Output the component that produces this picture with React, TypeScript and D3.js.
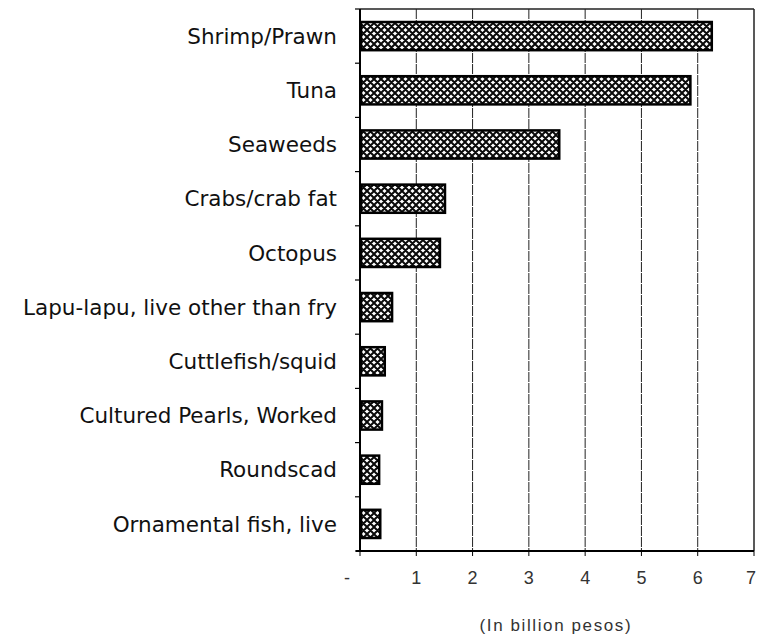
import React, { useRef, useEffect } from 'react';
import * as d3 from 'd3';

const categories = [
    'Shrimp/Prawn',
    'Tuna',
    'Seaweeds',
    'Crabs/crab fat',
    'Octopus',
    'Lapu-lapu, live other than fry',
    'Cuttlefish/squid',
    'Cultured Pearls, Worked',
    'Roundscad',
    'Ornamental fish, live',
];
const values = [6.25, 5.87, 3.54, 1.51, 1.42, 0.57, 0.44, 0.39, 0.34, 0.36];
const xTicks = [0, 1, 2, 3, 4, 5, 6, 7];
const xTickLabels = ['-', '1', '2', '3', '4', '5', '6', '7'];

const width = 757;
const height = 639;

const ExportsChart: React.FC = () => {
    const svgRef = useRef<SVGSVGElement | null>(null);

    useEffect(() => {
        if (!svgRef.current) return;
        const svg = d3.select(svgRef.current);
        svg.selectAll('*').remove();

        const margin = { top: 9, right: 3, bottom: 88, left: 360 };
        const innerWidth = width - margin.left - margin.right;
        const innerHeight = height - margin.top - margin.bottom;

        const defs = svg.append('defs');
        const pat = defs
            .append('pattern')
            .attr('id', 'hatch')
            .attr('patternUnits', 'userSpaceOnUse')
            .attr('width', 7)
            .attr('height', 7);
        pat.append('rect').attr('width', 7).attr('height', 7).attr('fill', '#fff');
        pat.append('path')
            .attr('d', 'M0,0 L7,7 M-1,6 L1,8 M6,-1 L8,1 M7,0 L0,7 M-1,1 L1,-1 M6,8 L8,6')
            .attr('stroke', '#0a0a0a')
            .attr('stroke-width', 2);

        const x = d3.scaleLinear().domain([0, 7]).range([0, innerWidth]);
        const y = d3.scaleBand<string>().domain(categories).range([0, innerHeight]).paddingInner(0.48).paddingOuter(0.24);
        const step = innerHeight / categories.length;

        const g = svg.append('g').attr('transform', `translate(${margin.left},${margin.top})`);

        // vertical grid lines
        g.selectAll('.grid')
            .data(xTicks.slice(1))
            .join('line')
            .attr('x1', (d) => x(d))
            .attr('x2', (d) => x(d))
            .attr('y1', 0)
            .attr('y2', innerHeight)
            .attr('stroke', '#222')
            .attr('stroke-width', (d) => (d === 7 ? 1.5 : 1))
            .attr('stroke-dasharray', (d) => (d === 7 ? null : '10,1'));

        // top border
        g.append('line')
            .attr('x1', 0)
            .attr('x2', innerWidth)
            .attr('y1', 0)
            .attr('y2', 0)
            .attr('stroke', '#222')
            .attr('stroke-width', 1.5);

        // bars
        g.selectAll('.bar')
            .data(values)
            .join('rect')
            .attr('x', x(0) + 1)
            .attr('y', (_, i) => y(categories[i]) as number)
            .attr('width', (d) => x(d) - x(0) - 1)
            .attr('height', y.bandwidth())
            .attr('fill', 'url(#hatch)')
            .attr('stroke', '#000')
            .attr('stroke-width', 2.5);

        // y axis line and ticks
        g.append('line')
            .attr('x1', 0)
            .attr('x2', 0)
            .attr('y1', 0)
            .attr('y2', innerHeight)
            .attr('stroke', '#000')
            .attr('stroke-width', 2);
        g.selectAll('.ytick')
            .data(d3.range(categories.length + 1))
            .join('line')
            .attr('x1', -5)
            .attr('x2', 0)
            .attr('y1', (d) => d * step)
            .attr('y2', (d) => d * step)
            .attr('stroke', '#000')
            .attr('stroke-width', 1.2);

        g.selectAll('.ylabel')
            .data(categories)
            .join('text')
            .attr('x', -23)
            .attr('y', (d) => (y(d) as number) + y.bandwidth() / 2)
            .attr('dy', '0.36em')
            .attr('text-anchor', 'end')
            .attr('font-family', '"DejaVu Sans", sans-serif')
            .attr('font-size', 21.5)
            .attr('fill', '#111')
            .text((d) => d);

        // x axis
        g.append('line')
            .attr('x1', -4)
            .attr('x2', innerWidth)
            .attr('y1', innerHeight)
            .attr('y2', innerHeight)
            .attr('stroke', '#000')
            .attr('stroke-width', 1.8);
        g.selectAll('.xtick')
            .data(xTicks)
            .join('line')
            .attr('x1', (d) => x(d))
            .attr('x2', (d) => x(d))
            .attr('y1', innerHeight)
            .attr('y2', innerHeight + 5)
            .attr('stroke', '#000')
            .attr('stroke-width', 1);
        g.selectAll('.xlabel')
            .data(xTicks)
            .join('text')
            .attr('x', (d) => x(d) - (d === 0 ? 13 : 0))
            .attr('y', innerHeight + 33)
            .attr('text-anchor', (d) => (d === 7 ? 'end' : 'middle'))
            .attr('dx', (d) => (d === 7 ? 2 : 0))
            .attr('font-family', 'Arial, "Liberation Sans", sans-serif')
            .attr('font-size', 18)
            .attr('fill', '#333')
            .text((_, i) => xTickLabels[i]);

        g.append('text')
            .attr('x', x(3.48))
            .attr('y', innerHeight + 80)
            .attr('text-anchor', 'middle')
            .attr('font-family', 'Arial, "Liberation Sans", sans-serif')
            .attr('font-size', 17)
            .attr('letter-spacing', 1.6)
            .attr('fill', '#333')
            .text('(In billion pesos)');
    }, []);

    return <svg ref={svgRef} width={width} height={height} style={{ position: 'absolute', left: 0, top: 0, background: '#fff' }} />;
};

export default function App() {
    return <ExportsChart />;
}
